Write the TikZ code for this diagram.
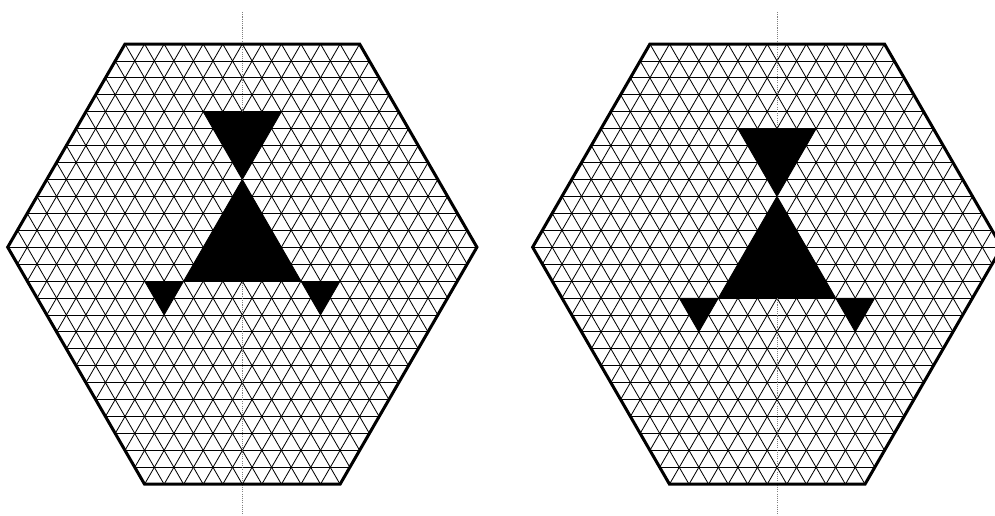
\documentclass[tikz,border=0pt]{standalone}
\begin{document}
\begin{tikzpicture}[x=0.5cm,y=0.5cm,
  gridline/.style={line width=0.6pt,black},
  hexborder/.style={line width=2.2pt,line join=miter},
  axisline/.style={gray,line width=0.7pt,dash pattern=on 0.8pt off 0.8pt},
  blackfill/.style={fill=black}]
\pgfmathsetmacro{\h}{0.8660254}
\useasboundingbox (-6.394,2.251) rectangle (44.50,-24.14);
\foreach \ox/\dx/\dk in {0/0/0, 26.85/0.5/1} {
 \begin{scope}[shift={(\ox,0)}]
  \begin{scope}
   \clip (0,0) -- (12,0) -- (18,{-12*\h}) -- (11,{-26*\h}) -- (1,{-26*\h}) -- (-6,{-12*\h}) -- cycle;
   \foreach \k in {0,...,26} \draw[gridline] (-7,{-\k*\h}) -- (19,{-\k*\h});
   \foreach \i in {-20,...,32} {
     \draw[gridline] (\i+1,{2*\h}) -- (\i-14,{-28*\h});
     \draw[gridline] (\i-1,{2*\h}) -- (\i+14,{-28*\h});
   }
  \end{scope}
  \draw[axisline] (6+\dx,1.637) -- (6+\dx,-24.3);
  \begin{scope}[shift={(\dx,{-\dk*\h})}]
   \fill[blackfill] (4,{-4*\h}) -- (8,{-4*\h}) -- (6,{-8*\h}) -- cycle;
   \fill[blackfill] (6,{-8*\h}) -- (9,{-14*\h}) -- (3,{-14*\h}) -- cycle;
   \fill[blackfill] (1,{-14*\h}) -- (3,{-14*\h}) -- (2,{-16*\h}) -- cycle;
   \fill[blackfill] (9,{-14*\h}) -- (11,{-14*\h}) -- (10,{-16*\h}) -- cycle;
  \end{scope}
  \draw[hexborder] (0,0) -- (12,0) -- (18,{-12*\h}) -- (11,{-26*\h}) -- (1,{-26*\h}) -- (-6,{-12*\h}) -- cycle;
 \end{scope}
}
\end{tikzpicture}
\end{document}
